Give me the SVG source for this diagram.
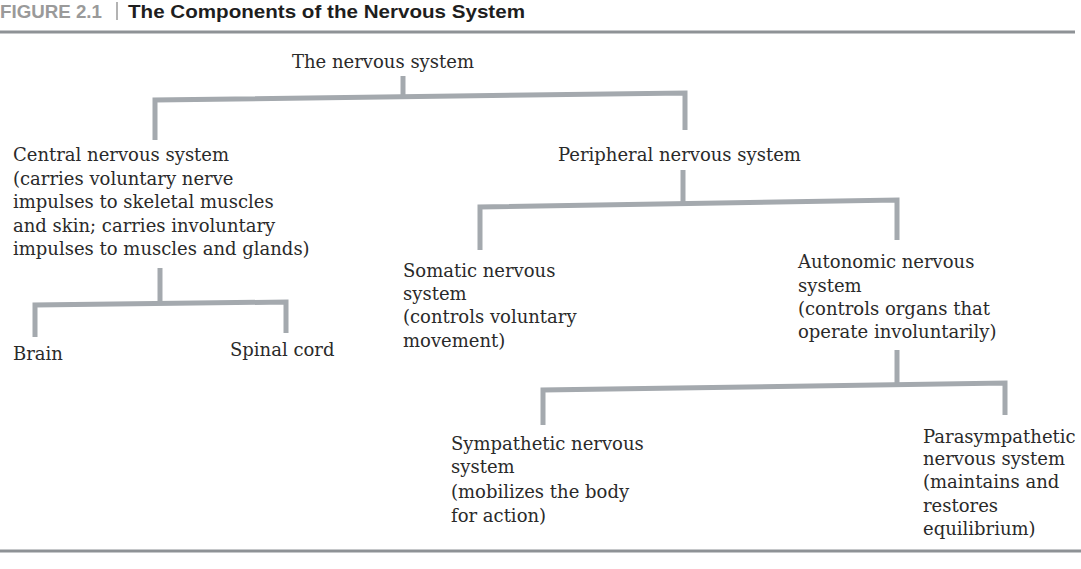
<svg xmlns="http://www.w3.org/2000/svg" width="1081" height="569" viewBox="0 0 1081 569">
<style>
.t{font-family:"DejaVu Serif","Liberation Serif",serif;font-size:18px;fill:#2a2a2a}
.c{fill:none;stroke:#a4a9ae;stroke-width:5;stroke-linejoin:miter;stroke-linecap:butt}
.rule{stroke:#8e9296;stroke-width:3}
.hd{font-family:"Liberation Sans",Arial,sans-serif;font-weight:bold;font-size:19px}
</style>
<rect width="1081" height="569" fill="#ffffff"/>
<g id="header">
<text class="hd" x="0" y="18" fill="#9a9a9a" textLength="102" lengthAdjust="spacingAndGlyphs">FIGURE 2.1</text>
<line x1="117" y1="2" x2="117" y2="20" stroke="#9a9a9a" stroke-width="1.5"/>
<text class="hd" x="128" y="18" fill="#1e1e1e" textLength="397" lengthAdjust="spacingAndGlyphs">The Components of the Nervous System</text>
<line class="rule" x1="0" y1="32" x2="1075" y2="32"/>
</g>
<g id="connectors">
<path class="c" d="M403,76 L403,97"/>
<path class="c" d="M155,140 L155,100 L685,93 L685,130"/>
<path class="c" d="M160,268 L160,303"/>
<path class="c" d="M35,337 L35,305 L286,302 L286,333"/>
<path class="c" d="M683,170 L683,204"/>
<path class="c" d="M480,250 L480,207 L897,200 L897,240"/>
<path class="c" d="M897,350 L897,386"/>
<path class="c" d="M543,425 L543,390 L1005,383 L1005,415"/>
</g>
<g id="nervous-system">
<text class="t" x="292" y="68">The nervous system</text>
</g>
<g id="central">
<text class="t" x="13" y="161">Central nervous system</text>
<text class="t" x="13" y="184.5">(carries voluntary nerve</text>
<text class="t" x="13" y="208">impulses to skeletal muscles</text>
<text class="t" x="13" y="231.5">and skin; carries involuntary</text>
<text class="t" x="13" y="255">impulses to muscles and glands)</text>
</g>
<g id="brain">
<text class="t" x="13" y="360">Brain</text>
</g>
<g id="spinal-cord">
<text class="t" x="230" y="356">Spinal cord</text>
</g>
<g id="peripheral">
<text class="t" x="558" y="161">Peripheral nervous system</text>
</g>
<g id="somatic">
<text class="t" x="403" y="277">Somatic nervous</text>
<text class="t" x="403" y="300">system</text>
<text class="t" x="403" y="323">(controls voluntary</text>
<text class="t" x="403" y="347">movement)</text>
</g>
<g id="autonomic">
<text class="t" x="798" y="268">Autonomic nervous</text>
<text class="t" x="798" y="292">system</text>
<text class="t" x="798" y="315">(controls organs that</text>
<text class="t" x="798" y="338">operate involuntarily)</text>
</g>
<g id="sympathetic">
<text class="t" x="451" y="450">Sympathetic nervous</text>
<text class="t" x="451" y="473">system</text>
<text class="t" x="451" y="498">(mobilizes the body</text>
<text class="t" x="451" y="522">for action)</text>
</g>
<g id="parasympathetic">
<text class="t" x="923" y="443">Parasympathetic</text>
<text class="t" x="923" y="465">nervous system</text>
<text class="t" x="923" y="488">(maintains and</text>
<text class="t" x="923" y="512">restores</text>
<text class="t" x="923" y="535">equilibrium)</text>
</g>
<g id="footer">
<line class="rule" x1="0" y1="551" x2="1081" y2="551" stroke-width="2.5"/>
</g>
</svg>
